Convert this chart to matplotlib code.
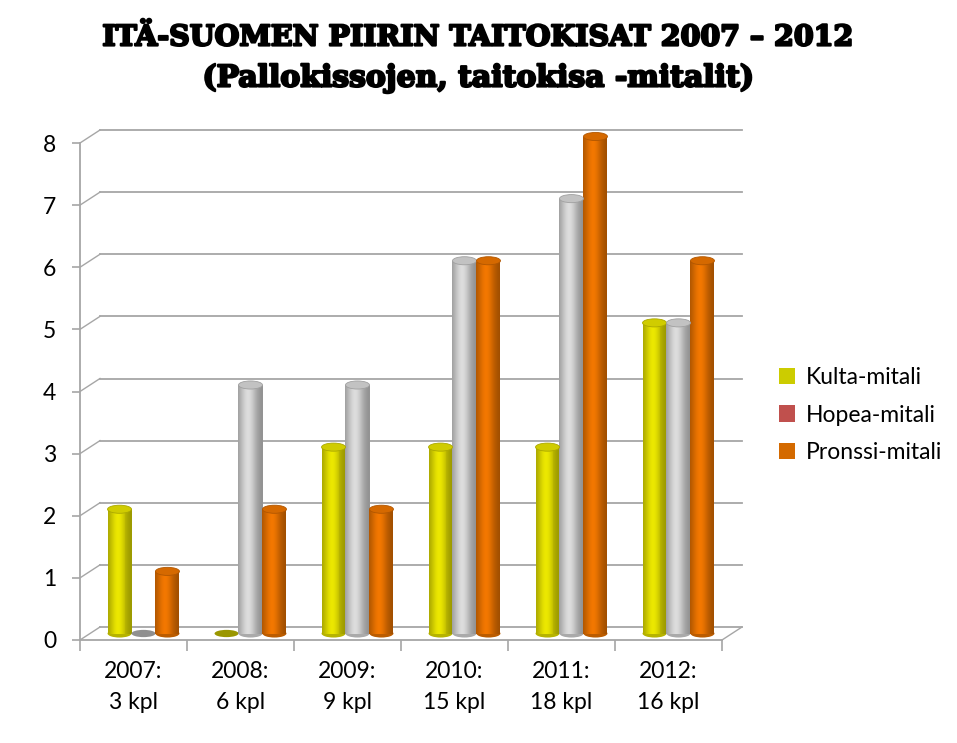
import numpy as np
import matplotlib
matplotlib.use("Agg")
import matplotlib.pyplot as plt
import matplotlib.patheffects as pe
from matplotlib.patches import Ellipse, Patch
from matplotlib.transforms import ScaledTranslation
from matplotlib.colors import to_rgb

# data
categories = ["2007:\n3 kpl", "2008:\n6 kpl", "2009:\n9 kpl",
              "2010:\n15 kpl", "2011:\n18 kpl", "2012:\n16 kpl"]
series_names = ["Kulta-mitali", "Hopea-mitali", "Pronssi-mitali"]
kulta = [2, 0, 3, 3, 3, 5]
hopea = [0, 4, 4, 6, 7, 5]
pronssi = [1, 2, 2, 6, 8, 6]
y_ticks = [0, 1, 2, 3, 4, 5, 6, 7, 8]

bar_colors = ["#d6d200", "#c8c8c8", "#dc6c00"]
legend_colors = ["#cccc00", "#c0504d", "#d46a00"]

plt.rcParams['font.family'] = ['Lato', 'DejaVu Sans']

fig = plt.figure(figsize=(9.57, 7.43), dpi=100)
W, H = 957, 743
ax = fig.add_axes([80 / W, (H - 640) / H, 642 / W, 497 / H])
ax.set_xlim(-0.5, len(categories) - 0.5)
ax.set_ylim(0, 8)
for s in ax.spines.values():
    s.set_visible(False)
ax.patch.set_alpha(0)

grid_col = "#a6a6a6"
back = ax.transData + ScaledTranslation(0.20, 0.13, fig.dpi_scale_trans)
mid = ax.transData + ScaledTranslation(0.10, 0.065, fig.dpi_scale_trans)

# back wall gridlines and the diagonal joins to the front axis
for v in y_ticks:
    ax.plot([-0.5, len(categories) - 0.5], [v, v], color=grid_col, lw=1.3,
            transform=back, clip_on=False, zorder=1)
    x0, y0 = ax.transData.transform((-0.5, v))
    ax.plot([x0, x0 + 20], [y0, y0 + 13], color=grid_col, lw=1.0,
            transform=None, clip_on=False, zorder=1)
x0, y0 = ax.transData.transform((len(categories) - 0.5, 0))
ax.plot([x0, x0 + 20], [y0, y0 + 13], color=grid_col, lw=1.0,
        transform=None, clip_on=False, zorder=1)

# front axis lines
ax.plot([-0.5, -0.5], [0, 8], color=grid_col, lw=1.3, clip_on=False, zorder=2)
ax.plot([-0.5, len(categories) - 0.5], [0, 0], color=grid_col, lw=1.3,
        clip_on=False, zorder=2)

# cylinder bars
w = 0.224
n_strips = 24
t = (np.arange(n_strips) + 0.5) / n_strips
shade = 0.70 + 0.40 * np.exp(-((t - 0.42) / 0.36) ** 2)
ell_h = 0.13

for i, vals in enumerate([kulta, hopea, pronssi]):
    base = np.array(to_rgb(bar_colors[i]))
    strip_cols = [tuple(np.clip(base * s, 0, 1)) for s in shade]
    for j, v in enumerate(vals):
        xc = j + (i - 1) * w
        if v == 0:
            ax.add_patch(Ellipse((xc, 0), w, ell_h * 0.9,
                                 facecolor=tuple(base * 0.72), edgecolor="none",
                                 transform=mid, zorder=3, clip_on=False))
            continue
        ax.add_patch(Ellipse((xc, 0), w, ell_h, facecolor=tuple(base * 0.85),
                             edgecolor="none", transform=mid, zorder=3,
                             clip_on=False))
        xs = xc - w / 2 + w * t
        ax.bar(xs, [v] * n_strips, width=w / n_strips * 1.05, bottom=0,
               color=strip_cols, linewidth=0, transform=mid, zorder=3,
               clip_on=False)
        ax.add_patch(Ellipse((xc, v), w, ell_h,
                             facecolor=tuple(np.clip(base * 0.97, 0, 1)),
                             edgecolor=tuple(base * 0.8), lw=0.6,
                             transform=mid, zorder=4, clip_on=False))

# ticks
ax.set_yticks(y_ticks)
ax.set_yticklabels([str(v) for v in y_ticks], fontsize=16.5)
ax.tick_params(axis="y", length=6, width=1.2, color=grid_col, pad=11)
ax.set_xticks(range(len(categories)))
ax.set_xticklabels(categories, fontsize=16.5, linespacing=1.6)
ax.tick_params(axis="x", length=0, pad=15)
ax.set_xticks(np.arange(-0.5, len(categories)), minor=True)
ax.tick_params(axis="x", which="minor", length=8, width=1.2, color=grid_col)

# title, thickened a bit to get closer to the heavy original face
heavy = [pe.withStroke(linewidth=1.6, foreground="black")]
fig.text(0.5, 1 - 38 / H, "ITÄ-SUOMEN PIIRIN TAITOKISAT 2007 – 2012",
         ha="center", va="center", fontsize=20.5, fontweight="bold",
         family=["DejaVu Serif"], path_effects=heavy)
fig.text(0.5, 1 - 78 / H, "(Pallokissojen, taitokisa -mitalit)",
         ha="center", va="center", fontsize=21.5, fontweight="bold",
         family=["DejaVu Serif"], path_effects=heavy)

# legend
handles = [Patch(facecolor=c, edgecolor="none") for c in legend_colors]
fig.legend(handles, series_names, loc="center left",
           bbox_to_anchor=(758 / W, 1 - 415 / H), frameon=False, fontsize=16.5,
           handlelength=0.7, handleheight=0.7, handletextpad=0.5,
           labelspacing=0.72)

fig.savefig("out.png", dpi=100)
